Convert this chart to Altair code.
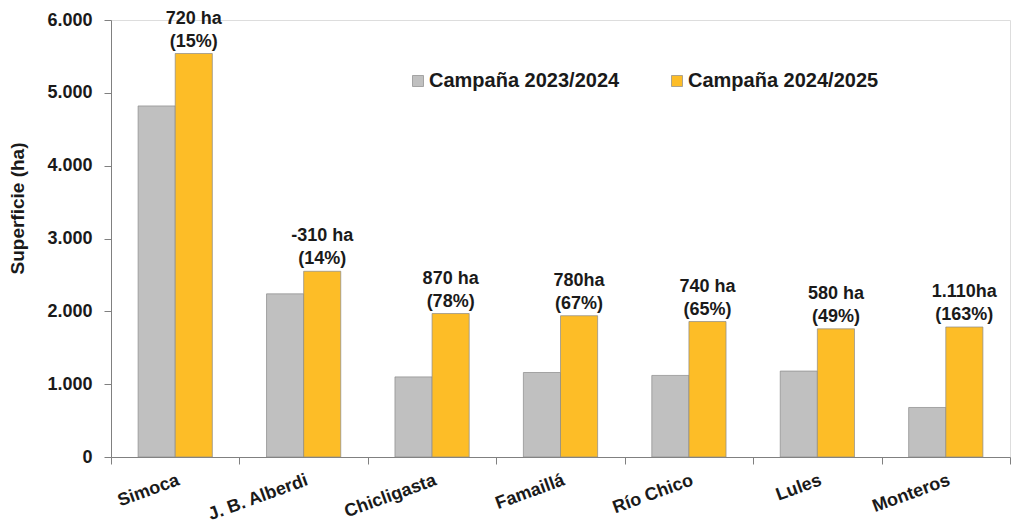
import altair as alt
import pandas as pd

departamentos = ["Simoca", "J. B. Alberdi", "Chicligasta", "Famaillá", "Río Chico", "Lules", "Monteros"]
campana_2324 = [4820, 2240, 1100, 1160, 1120, 1180, 680]
campana_2425 = [5540, 2550, 1970, 1940, 1860, 1760, 1785]
etiquetas = ["720 ha\n(15%)", "-310 ha\n(14%)", "870 ha\n(78%)", "780ha\n(67%)",
             "740 ha\n(65%)", "580 ha\n(49%)", "1.110ha\n(163%)"]
series = ["Campaña 2023/2024", "Campaña 2024/2025"]
colores = ["#C0C0C0", "#FDBD27"]

rows = []
for d, a, b in zip(departamentos, campana_2324, campana_2425):
    rows.append({"dep": d, "serie": series[0], "valor": a})
    rows.append({"dep": d, "serie": series[1], "valor": b})
df = pd.DataFrame(rows)
df_lab = pd.DataFrame({"dep": departamentos, "serie": series[1], "valor": campana_2425, "txt": etiquetas})

FONT = "Liberation Sans"

x_enc = alt.X("dep:N", sort=departamentos, title=None,
              scale=alt.Scale(paddingInner=0, paddingOuter=0),
              axis=alt.Axis(labelAngle=340, labelAlign="right", labelBaseline="top",
                            labelFontSize=18, labelFontWeight="bold", labelColor="#1a1a1a",
                            labelFont=FONT, labelPadding=7, tickBand="extent", tickSize=7,
                            labelLimit=300,
                            domainColor="#808080", tickColor="#808080"))
xoff = alt.XOffset("serie:N", sort=series, scale=alt.Scale(paddingOuter=0.73, paddingInner=0))

bars = alt.Chart(df).mark_bar(stroke="#8a8a8a", strokeWidth=0.7).encode(
    x=x_enc,
    xOffset=xoff,
    y=alt.Y("valor:Q", scale=alt.Scale(domain=[0, 6000], nice=False),
            axis=alt.Axis(values=[0, 1000, 2000, 3000, 4000, 5000, 6000],
                          labelExpr="replace(format(datum.value, ','), ',', '.')",
                          title="Superficie (ha)", titleFontSize=19, titleFontWeight="bold",
                          titleFont=FONT, titleColor="#1a1a1a", titlePadding=19, titleY=188,
                          labelFontSize=18, labelFontWeight="bold", labelFont=FONT,
                          labelColor="#1a1a1a", labelPadding=12, tickSize=7, grid=False,
                          domainColor="#808080", tickColor="#808080")),
    color=alt.Color("serie:N", sort=series,
                    scale=alt.Scale(domain=series, range=colores),
                    legend=alt.Legend(title=None, orient="none", legendX=297, legendY=51,
                                      direction="horizontal", columnPadding=47,
                                      symbolType="square", symbolSize=121,
                                      symbolStrokeColor="#8a8a8a", symbolStrokeWidth=0.7,
                                      labelFontSize=20, labelFontWeight="bold", labelFont=FONT,
                                      labelColor="#1a1a1a", labelOffset=1, labelLimit=400)),
)

labels = alt.Chart(df_lab).mark_text(lineBreak="\n", baseline="bottom", dy=-26,
                                     fontSize=18, fontWeight="bold", font=FONT,
                                     color="#1a1a1a", lineHeight=23).encode(
    x=alt.X("dep:N", sort=departamentos),
    xOffset=alt.XOffset("serie:N", sort=series),
    y="valor:Q",
    text="txt:N",
)

chart = alt.layer(bars, labels).properties(
    width=899, height=437,
    autosize=alt.AutoSizeParams(type="none"),
    padding={"left": 103, "top": 12, "right": 2, "bottom": 66},
).configure_view(stroke=None).configure(background="white")

chart.save("out.html", embed_options={"renderer": "svg", "actions": False})
